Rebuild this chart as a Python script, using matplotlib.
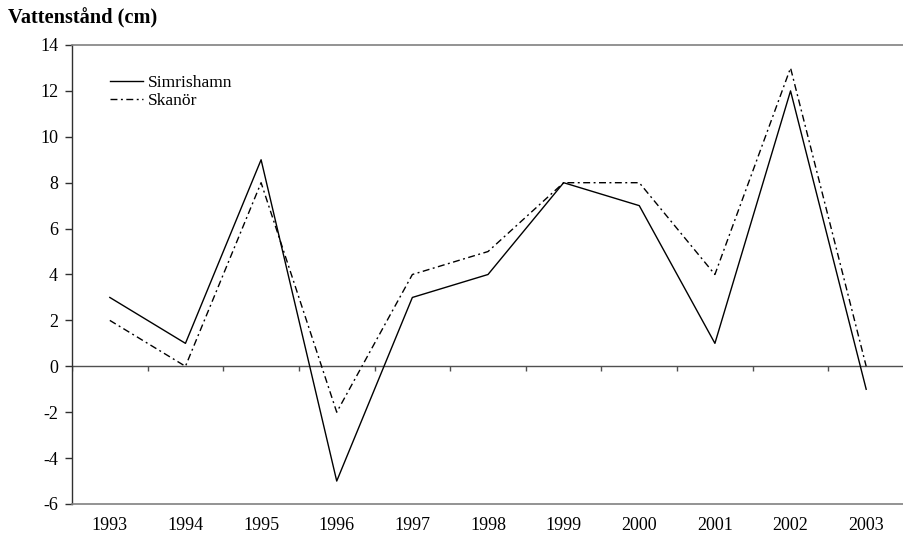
import numpy as np
import matplotlib
matplotlib.use('Agg')
import matplotlib.pyplot as plt

years = ['1993', '1994', '1995', '1996', '1997', '1998',
         '1999', '2000', '2001', '2002', '2003']
simrishamn = [3, 1, 9, -5, 3, 4, 8, 7, 1, 12, -1]
skanor = [2, 0, 8, -2, 4, 5, 8, 8, 4, 13, 0]

plt.rcParams['font.family'] = ['Liberation Serif', 'DejaVu Serif']
plt.rcParams['axes.unicode_minus'] = False

fig = plt.figure(figsize=(9.04, 5.42), dpi=100)
ax = fig.add_axes([72/904, 1 - 504/542, 832/904, (504 - 45)/542])

x = np.arange(len(years))
ax.plot(x, simrishamn, color='black', lw=1.0, label='Simrishamn')
ax.plot(x, skanor, color='black', lw=1.0, dashes=(5, 2.5, 1.4, 2.5),
        label='Skanör')

ax.set_xlim(-0.5, len(years) - 0.5)
ax.set_ylim(-6, 14)
ax.set_yticks(np.arange(-6, 15, 2))
ax.set_xticks(x)
ax.set_xticklabels(years)

# category axis crosses at zero, with ticks between the categories
ax.axhline(0, color='#505050', lw=1.0, zorder=1)
ax.vlines(np.arange(-0.5, len(years) - 0.5), 0, -0.22, color='#505050', lw=1.0, zorder=1)

ax.tick_params(axis='x', length=0, pad=9, labelsize=13)
ax.tick_params(axis='y', length=5, width=1, color='#303030', pad=5, labelsize=13)

for s in ['top', 'bottom']:
    ax.spines[s].set_color('#808080')
    ax.spines[s].set_linewidth(1.2)
ax.spines['right'].set_visible(False)
ax.spines['left'].set_color('#303030')
ax.spines['left'].set_linewidth(1.0)

leg = ax.legend(loc='upper left', bbox_to_anchor=(0.037, 0.95), frameon=False,
                fontsize=12.6, handlelength=1.9, handletextpad=0.25,
                labelspacing=0.1, borderaxespad=0)

fig.text(8/904, 1 - 18/542, 'Vattenstånd (cm)', fontsize=14.7, fontweight='bold',
         va='center', ha='left')

fig.savefig('out.png', dpi=100)
